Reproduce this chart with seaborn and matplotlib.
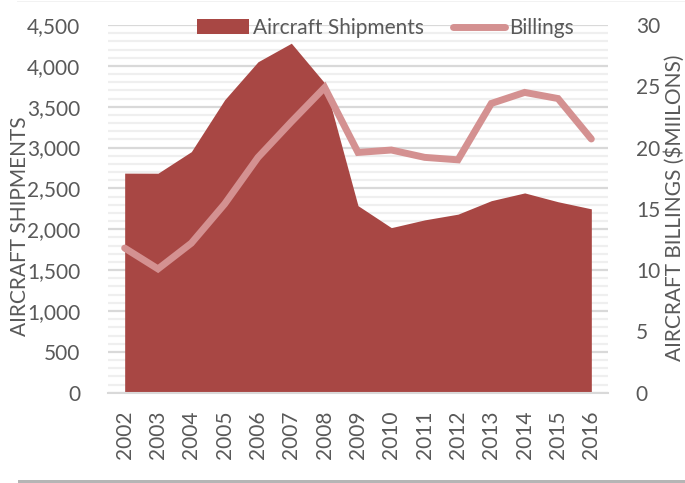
import numpy as np
import pandas as pd
import matplotlib
matplotlib.use("Agg")
import matplotlib.pyplot as plt
import seaborn as sns
from matplotlib.ticker import MultipleLocator, FuncFormatter
from matplotlib.patches import Patch, Rectangle
from matplotlib.lines import Line2D

# data
years = ["2002", "2003", "2004", "2005", "2006", "2007", "2008", "2009",
         "2010", "2011", "2012", "2013", "2014", "2015", "2016"]
shipments = [2687, 2686, 2950, 3585, 4050, 4277, 3790, 2289,
             2020, 2115, 2185, 2350, 2445, 2337, 2250]
billings = [11.8, 10.1, 12.2, 15.4, 19.2, 22.1, 24.9, 19.6,
            19.8, 19.2, 19.0, 23.6, 24.5, 24.0, 20.7]

df = pd.DataFrame({"year": years, "pos": np.arange(len(years)),
                   "shipments": shipments, "billings": billings})

sns.set_style("white")
plt.rcParams["font.family"] = ["Lato", "DejaVu Sans"]

AREA = "#a84744"
LINE = "#d49191"
TXT = "#595959"

fig = plt.figure(figsize=(6.85, 4.83), dpi=100)
ax = fig.add_axes([108 / 685, 1 - 392.7 / 483, 500 / 685, 367.7 / 483])

# shipments area
ax.fill_between(df["pos"], df["shipments"], 0, color=AREA, lw=0, zorder=2)
ax.set_xlim(-0.5, len(years) - 0.5)
ax.set_ylim(0, 4500)
ax.yaxis.set_major_locator(MultipleLocator(500))
ax.yaxis.set_minor_locator(MultipleLocator(100))
ax.yaxis.set_major_formatter(FuncFormatter(lambda v, p: f"{int(v):,}"))
ax.grid(axis="y", which="major", color="#d9d9d9", lw=1.6, zorder=0)
ax.grid(axis="y", which="minor", color="#efefef", lw=1.6, zorder=0)
ax.set_axisbelow(True)

ax.set_xticks(df["pos"])
ax.set_xticklabels(years, rotation=90)
ax.set_xticks(np.arange(len(years) + 1) - 0.5, minor=True)
ax.tick_params(axis="x", which="major", length=0, pad=13, labelsize=15, labelcolor=TXT)
ax.tick_params(axis="x", which="minor", length=6, width=1.5, color="#d9d9d9")
ax.tick_params(axis="y", which="both", length=0, pad=20, labelsize=15, labelcolor=TXT)
for s in ["top", "right", "left"]:
    ax.spines[s].set_visible(False)
ax.spines["bottom"].set_color("#d9d9d9")
ax.spines["bottom"].set_linewidth(1.5)
ax.set_ylabel("")
ax.set_xlabel("")

# billings line on the right axis
ax2 = ax.twinx()
sns.lineplot(data=df, x="pos", y="billings", ax=ax2, color=LINE, lw=5,
             solid_capstyle="round", solid_joinstyle="miter", zorder=3)
ax2.set_ylim(0, 30)
ax2.yaxis.set_major_locator(MultipleLocator(5))
ax2.tick_params(axis="y", length=0, pad=20, labelsize=15, labelcolor=TXT)
for s in ["top", "right", "left", "bottom"]:
    ax2.spines[s].set_visible(False)
ax2.set_ylabel("")
ax2.set_xlabel("")
ax2.set_xlim(-0.5, len(years) - 0.5)

fig.text(20 / 685, 1 - 226 / 483, "AIRCRAFT SHIPMENTS", rotation=90,
         ha="center", va="center", fontsize=15, color=TXT)
fig.text(675 / 685, 1 - 208 / 483, "AIRCRAFT BILLINGS ($MIILONS)", rotation=90,
         ha="center", va="center", fontsize=15, color=TXT)

handles = [Patch(facecolor=AREA, edgecolor="none"),
           Line2D([0], [0], color=LINE, lw=5, solid_capstyle="round")]
fig.legend(handles, ["Aircraft Shipments", "Billings"], ncol=2, frameon=False,
           loc="center", bbox_to_anchor=(385.5 / 685, 1 - 28 / 483),
           fontsize=15, labelcolor=TXT, handlelength=2.5, handleheight=0.7,
           handletextpad=0.2, columnspacing=1.4, borderpad=0)

# thin frame remnants at the top and bottom edges
fig.add_artist(Rectangle((18 / 685, 0), 667 / 685, 3 / 483,
                         transform=fig.transFigure, color="#b5b5b5", lw=0))
fig.add_artist(Rectangle((17 / 685, 1 - 2 / 483), 668 / 685, 1 / 483,
                         transform=fig.transFigure, color="#f2f2f2", lw=0))

fig.savefig("out.png", dpi=100)
